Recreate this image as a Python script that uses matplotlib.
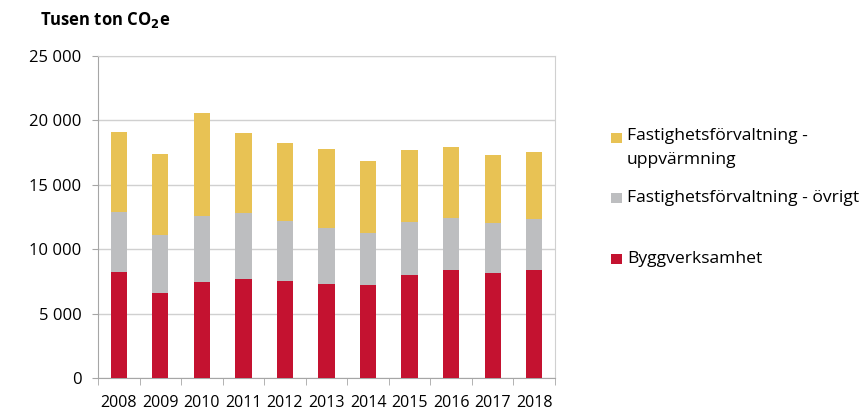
import matplotlib
matplotlib.use("Agg")
import matplotlib.pyplot as plt
from matplotlib.patches import Rectangle
import numpy as np

plt.rcParams['font.family'] = ['Open Sans', 'DejaVu Sans']

years = ['2008', '2009', '2010', '2011', '2012', '2013', '2014', '2015', '2016', '2017', '2018']
bygg = [8200, 6590, 7420, 7710, 7550, 7320, 7220, 7970, 8380, 8120, 8380]
ovrigt = [4720, 4490, 5140, 5090, 4620, 4330, 4070, 4180, 4080, 3920, 4000]
uppvarmning = [6180, 6330, 8000, 6220, 6100, 6130, 5530, 5550, 5500, 5300, 5190]

series_labels = ['Byggverksamhet', 'Fastighetsförvaltning - övrigt', 'Fastighetsförvaltning -\nuppvärmning']
colors = ['#C41230', '#BDBEC0', '#E8C254']
yticks = [0, 5000, 10000, 15000, 20000, 25000]
ytick_labels = ['0', '5 000', '10 000', '15 000', '20 000', '25 000']

fig = plt.figure(figsize=(8.64, 4.11), dpi=100)
ax = fig.add_axes([98/864, 1-378/411, 457/864, 322/411])

x = np.arange(len(years))
w = 0.39
bottom = np.zeros(len(years))
for vals, c in zip([bygg, ovrigt, uppvarmning], colors):
    ax.bar(x, vals, w, bottom=bottom, color=c, zorder=3, edgecolor='none')
    bottom += np.array(vals)

ax.set_xlim(-0.5, len(years) - 0.5)
ax.set_ylim(0, 25000)
ax.set_yticks(yticks)
ax.set_yticklabels(ytick_labels, fontsize=12)
ax.set_xticks(x)
ax.set_xticklabels(years, fontsize=11.5)
ax.set_xticks(np.arange(-0.5, len(years), 1), minor=True)
ax.tick_params(axis='x', which='major', length=0, pad=12)
ax.tick_params(axis='x', which='minor', length=5, color='#A6A6A6')
ax.tick_params(axis='y', length=4, color='#A6A6A6', pad=8)
ax.yaxis.grid(True, color='#D0D0D0', linewidth=1, zorder=0)
for s in ['left', 'bottom']:
    ax.spines[s].set_color('#A6A6A6')
for s in ['top', 'right']:
    ax.spines[s].set_color('#D0D0D0')

fig.text(40/864, 1-20/411, 'Tusen ton CO$_\\mathbf{2}$e', fontsize=12, fontweight='bold', va='center', ha='left')

# legend
leg_items = [(uppvarmning, 2, 138), (ovrigt, 1, 198), (bygg, 0, 259)]
for _, idx, yc in leg_items:
    fig.patches.append(Rectangle((611/864, 1-(yc+5)/411), 11/864, 10/411, transform=fig.transFigure,
                                 facecolor=colors[idx], edgecolor='none'))
    fig.text(627/864, 1-(yc-10)/411 if idx == 2 else 1-yc/411, series_labels[idx], fontsize=12.6,
             va='top' if idx == 2 else 'center', ha='left', linespacing=1.65)

fig.savefig('out.png', dpi=100)
